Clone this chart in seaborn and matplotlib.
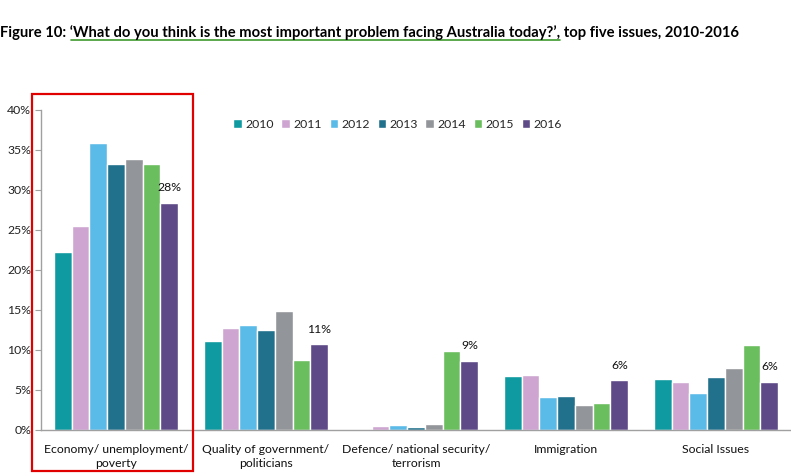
import matplotlib
matplotlib.use("Agg")
import matplotlib.pyplot as plt
import seaborn as sns
import pandas as pd
from matplotlib.patches import Rectangle

categories = ["Economy/ unemployment/\npoverty", "Quality of government/\npoliticians",
              "Defence/ national security/\nterrorism", "Immigration", "Social Issues"]
years = ["2010", "2011", "2012", "2013", "2014", "2015", "2016"]
v2010 = [22.2, 11.1, 0.0, 6.8, 6.4]
v2011 = [25.5, 12.7, 0.5, 6.9, 6.0]
v2012 = [35.9, 13.1, 0.6, 4.1, 4.6]
v2013 = [33.3, 12.5, 0.4, 4.25, 6.6]
v2014 = [33.9, 14.9, 0.7, 3.15, 7.7]
v2015 = [33.2, 8.7, 9.9, 3.4, 10.6]
v2016 = [28.4, 10.7, 8.6, 6.2, 6.05]
labels_2016 = ["28%", "11%", "9%", "6%", "6%"]
colors = ["#0E9AA0", "#CDA5D0", "#5BBBE8", "#21708C", "#929599", "#6BBE5E", "#5E4A87"]

series = [v2010, v2011, v2012, v2013, v2014, v2015, v2016]
rows = []
for y, vals in zip(years, series):
    for c, v in zip(categories, vals):
        rows.append({"cat": c, "year": y, "val": v})
df = pd.DataFrame(rows)

sns.set_theme(style="white")
plt.rcParams["font.family"] = ["Lato", "DejaVu Sans"]

FS = 8.8
fig = plt.figure(figsize=(7.91, 4.74), dpi=100)
ax = fig.add_axes([41/791, 1-430/474, 750/791, 320/474])

sns.barplot(data=df, x="cat", y="val", hue="year", order=categories, hue_order=years,
            palette=colors, width=0.83, saturation=1, ax=ax, errorbar=None, legend=True)

ax.set_ylim(0, 40)
ax.set_xlim(-0.5, len(categories) - 0.5)
ax.set_yticks(range(0, 41, 5))
ax.set_yticklabels([f"{t}%" for t in range(0, 41, 5)], fontsize=FS, color="#222222")
ax.set_xticklabels(categories, fontsize=FS, color="#111111", linespacing=1.35)
ax.set_xlabel("")
ax.set_ylabel("")
ax.tick_params(axis="x", length=0, pad=10)
ax.set_xticks([i - 0.5 for i in range(len(categories) + 1)], minor=True)
ax.tick_params(axis="x", which="minor", length=4, color="#A0A0A0", width=0.8, direction="out")
ax.tick_params(axis="y", length=4, color="#A0A0A0", width=0.8, direction="out", pad=3, left=True)
for s in ["top", "right"]:
    ax.spines[s].set_visible(False)
for s in ["left", "bottom"]:
    ax.spines[s].set_color("#A0A0A0")
    ax.spines[s].set_linewidth(1.0)

ax.bar_label(ax.containers[-1], labels=labels_2016, padding=7, fontsize=FS, color="#111111")

leg = ax.legend(ncol=7, frameon=False, loc="center left", bbox_to_anchor=(0.25, 0.956),
                fontsize=FS, handlelength=0.7, handleheight=0.7, handletextpad=0.3,
                columnspacing=0.6, borderaxespad=0)

fig.patches.append(Rectangle((32/791, 1-471/474), (193-32)/791, (471-94)/474,
                             transform=fig.transFigure, fill=False, edgecolor="#E00000",
                             linewidth=1.6, zorder=10))

TFS = 10.6
t0 = "Figure 10: "
t1 = "\u2018What do you think is the most important problem facing Australia today?\u2019,"
t2 = " top five issues, 2010-2016"
title = fig.text(0.0, 1-37/474, t0 + t1 + t2, fontsize=TFS, fontweight="bold",
                 ha="left", va="baseline", color="#000000")
fig.canvas.draw()
r = fig.canvas.get_renderer()
tmp = fig.text(0.0, 1-37/474, t0, fontsize=TFS, fontweight="bold", ha="left", va="baseline")
x0 = tmp.get_window_extent(r).x1
tmp.set_text(t0 + t1)
x1 = tmp.get_window_extent(r).x1
tmp.remove()
yl = 1 - 39.5/474
fig.add_artist(plt.Line2D([x0/791 + 0.002, x1/791], [yl, yl], transform=fig.transFigure,
                          color="#3E9A2E", linewidth=1.2))

fig.savefig("out.png", dpi=100)
